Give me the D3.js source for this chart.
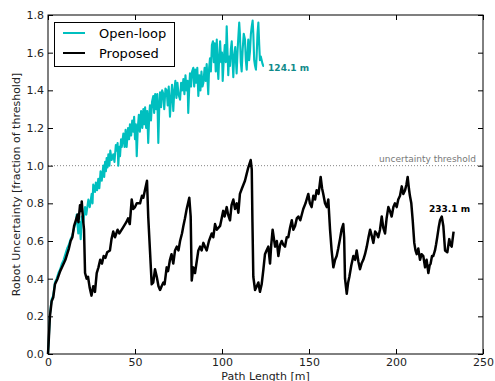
<!DOCTYPE html>
<html>
<head>
<meta charset="utf-8">
<script src="https://cdn.jsdelivr.net/npm/d3@7"></script>
<style>
body { margin: 0; background: #fff; }
text { font-family: "DejaVu Sans", sans-serif; }
</style>
</head>
<body>
<svg width="495" height="381"></svg>
<script>
// chart values: [path length m, uncertainty fraction]
var openLoop = [[0,0],[0.3,0.05],[1.1,0.21],[2.1,0.29],[3,0.31],[4,0.38],[5,0.40],[6,0.43],[7,0.45],[8,0.48],[9,0.50],[10,0.53],[11,0.56],[12,0.58],[13,0.61],[14,0.63],[15,0.67],[16,0.70],[16.5,0.74],[17.4,0.64],[18.2,0.70],[18.8,0.61],[19.4,0.73],[20.3,0.70],[21.3,0.78],[22,0.74],[23.2,0.82],[24,0.78],[25.1,0.85],[25.6,0.80],[26.0,0.90],[27,0.86],[27.5,0.91],[28.2,0.87],[28.9,0.93],[29.5,0.88],[30.2,0.97],[30.9,0.92],[31.8,1.00],[32.3,0.94],[32.8,1.02],[33.3,0.97],[33.7,1.04],[34.2,0.99],[34.7,1.06],[35.3,1.00],[35.8,1.08],[36.6,1.03],[37.5,1.06],[38.2,1.02],[39.0,1.11],[39.5,1.08],[40.0,1.12],[40.4,1.00],[41.0,1.10],[41.4,1.05],[42.0,1.14],[42.4,1.10],[43.3,1.17],[44,1.10],[44.6,1.19],[45.2,1.10],[46,1.20],[46.6,1.14],[47.1,1.22],[47.8,1.16],[48.4,1.24],[49.0,1.18],[49.5,1.26],[50.0,1.14],[50.5,1.22],[51.0,1.05],[51.6,1.20],[52.2,1.27],[52.8,1.18],[53.5,1.29],[54.2,1.20],[54.8,1.30],[55.3,1.22],[55.8,1.31],[56.4,1.20],[57.0,1.29],[57.6,1.12],[58.2,1.27],[58.6,1.32],[59.2,1.24],[59.8,1.34],[60.5,1.37],[61.0,1.28],[61.6,1.38],[62.2,1.30],[62.8,1.38],[63.4,1.12],[64.0,1.33],[64.4,1.39],[65.0,1.31],[65.6,1.40],[66.3,1.38],[66.8,1.30],[67.5,1.41],[68.2,1.40],[68.8,1.32],[69.4,1.42],[70.1,1.26],[70.7,1.36],[71.3,1.43],[72.0,1.29],[72.6,1.40],[73.2,1.45],[73.8,1.36],[74.4,1.44],[75.0,1.38],[75.9,1.35],[76.5,1.44],[77.2,1.40],[77.8,1.46],[78.4,1.38],[79.0,1.48],[79.6,1.40],[80.2,1.45],[80.6,1.28],[81.2,1.42],[81.6,1.49],[82.2,1.42],[82.8,1.50],[83.5,1.52],[84.0,1.42],[84.6,1.51],[85.2,1.44],[85.8,1.52],[86.4,1.37],[87.0,1.48],[87.6,1.40],[88.2,1.50],[88.8,1.42],[89.3,1.44],[90.0,1.52],[90.6,1.45],[91.2,1.54],[91.7,1.45],[92.1,1.38],[92.6,1.52],[93.1,1.57],[93.6,1.50],[94.2,1.64],[94.8,1.66],[95.3,1.55],[95.8,1.65],[96.4,1.50],[97.0,1.67],[97.5,1.52],[97.9,1.46],[98.4,1.58],[98.9,1.66],[99.5,1.55],[100.0,1.60],[100.4,1.45],[101.0,1.56],[101.6,1.64],[102.2,1.55],[102.7,1.74],[103.2,1.60],[103.6,1.48],[104.1,1.58],[104.6,1.53],[105.1,1.62],[105.6,1.66],[106.1,1.55],[106.5,1.47],[107.0,1.58],[107.6,1.63],[108.4,1.49],[109.0,1.62],[109.5,1.70],[109.9,1.76],[110.3,1.70],[110.8,1.55],[111.3,1.50],[111.9,1.62],[112.5,1.70],[113.2,1.67],[113.7,1.56],[114.2,1.51],[114.7,1.60],[115.1,1.67],[115.6,1.56],[116.1,1.61],[116.6,1.70],[117.1,1.74],[117.6,1.77],[118.0,1.70],[118.5,1.56],[119.0,1.53],[119.5,1.51],[119.9,1.58],[120.4,1.70],[120.9,1.76],[121.4,1.64],[121.8,1.56],[122.3,1.58],[122.8,1.56],[123.3,1.54],[123.7,1.53],[124.1,1.53]];

var proposed = [[0,0],[0.3,0.05],[1.1,0.2],[2.1,0.28],[3,0.3],[4,0.37],[5.5,0.40],[7,0.44],[8.5,0.47],[10,0.5],[11,0.53],[12,0.56],[13,0.6],[14,0.62],[15,0.68],[16,0.71],[17,0.74],[17.5,0.70],[18.4,0.79],[19,0.76],[19.4,0.81],[20,0.73],[20.7,0.66],[21.3,0.43],[22.2,0.40],[23,0.41],[24,0.35],[25,0.31],[26,0.36],[27,0.33],[28,0.43],[29,0.46],[30,0.50],[31,0.48],[32,0.52],[33,0.51],[34,0.54],[35.6,0.55],[36.5,0.61],[37.5,0.65],[38.5,0.62],[40,0.66],[41,0.64],[43,0.67],[45,0.70],[46,0.72],[47,0.69],[48.1,0.82],[49,0.77],[50,0.78],[51,0.80],[52.9,0.80],[54,0.84],[54.8,0.83],[55.7,0.87],[56.9,0.92],[57.6,0.73],[58.6,0.55],[59.6,0.37],[60.5,0.38],[61.5,0.45],[62.5,0.41],[63.5,0.36],[64.4,0.34],[65.3,0.36],[66.3,0.38],[67,0.37],[68.2,0.46],[69,0.44],[70.1,0.50],[71,0.53],[72,0.48],[73,0.55],[74,0.57],[75,0.55],[75.9,0.60],[77,0.64],[77.8,0.68],[78.7,0.72],[79.7,0.77],[81.2,0.83],[82,0.73],[82.6,0.39],[83.5,0.46],[84.5,0.43],[86.4,0.55],[87.4,0.57],[88.3,0.55],[89.3,0.59],[90.2,0.57],[91.2,0.55],[92.5,0.60],[94.1,0.64],[95,0.62],[96,0.69],[97,0.66],[98.9,0.68],[99.8,0.72],[100.7,0.76],[101.5,0.73],[102.7,0.78],[103.5,0.74],[104.6,0.71],[105.5,0.79],[106.5,0.82],[107.5,0.77],[108.5,0.80],[109.4,0.75],[110.3,0.85],[111.5,0.88],[113.2,0.92],[114,0.95],[115.1,0.99],[116.5,1.03],[117.1,0.98],[117.5,0.70],[118,0.41],[119,0.34],[120,0.36],[120.9,0.38],[121.8,0.33],[122.8,0.37],[123.8,0.45],[124.7,0.53],[125.6,0.55],[126.6,0.57],[127.6,0.48],[128.3,0.58],[129.1,0.66],[130.5,0.57],[131.5,0.60],[132.4,0.52],[133.4,0.58],[134.3,0.60],[135.2,0.58],[136.2,0.57],[137.2,0.62],[138.1,0.62],[139.1,0.67],[140.1,0.71],[141,0.66],[142,0.68],[143,0.72],[143.9,0.73],[145,0.71],[146.7,0.77],[148,0.80],[149.6,0.85],[150.5,0.80],[151.5,0.78],[152.5,0.84],[153.5,0.82],[154.4,0.87],[155.5,0.85],[156.7,0.94],[157.5,0.88],[158.2,0.85],[159.2,0.80],[160.2,0.78],[161.1,0.82],[162.1,0.66],[163,0.55],[164,0.46],[165,0.50],[165.9,0.52],[166.8,0.56],[167.8,0.61],[168.7,0.66],[169.7,0.69],[170.2,0.62],[170.7,0.40],[171.7,0.32],[172.5,0.38],[173.2,0.41],[174.3,0.47],[175.5,0.52],[176.5,0.50],[177.4,0.55],[178.4,0.49],[179.3,0.45],[180.2,0.48],[181.2,0.50],[182.2,0.53],[183.2,0.57],[184.2,0.62],[185.1,0.66],[186,0.63],[187,0.59],[188,0.65],[188.9,0.64],[189.8,0.62],[190.8,0.66],[191.8,0.73],[192.7,0.67],[193.7,0.64],[194.6,0.72],[195.6,0.78],[196.5,0.76],[197.5,0.73],[198.5,0.78],[199.4,0.80],[200.4,0.78],[201.3,0.82],[202.3,0.84],[203.3,0.89],[204.2,0.85],[205.2,0.87],[206,0.90],[206.7,0.94],[207.4,0.88],[208,0.84],[208.8,0.80],[209.6,0.71],[210.5,0.59],[211.2,0.55],[211.9,0.53],[212.8,0.56],[213.8,0.50],[214.7,0.53],[215.7,0.52],[216.7,0.46],[217.6,0.50],[218.6,0.43],[219.3,0.47],[219.9,0.48],[220.7,0.52],[221.4,0.52],[222.4,0.55],[223,0.58],[223.7,0.62],[224.5,0.67],[225.3,0.71],[226.3,0.73],[227.2,0.68],[228.2,0.55],[229.5,0.54],[230.6,0.61],[231.3,0.58],[232,0.57],[233.1,0.65]];

var seriesNames = ["Open-loop", "Proposed"];
var xTicks = [0, 50, 100, 150, 200, 250];
var yTicks = [0, 0.2, 0.4, 0.6, 0.8, 1.0, 1.2, 1.4, 1.6, 1.8];
var threshold = 1.0;
var endLabels = ["124.1 m", "233.1 m"];

var mLeft = 48, mRight = 483, mTop = 15, mBottom = 354;
var svg = d3.select("svg");

var x = d3.scaleLinear().domain([0, 250]).range([mLeft, mRight]);
var y = d3.scaleLinear().domain([0, 1.8]).range([mBottom, mTop]);

var line = d3.line().x(function(d) { return x(d[0]); }).y(function(d) { return y(d[1]); });

// threshold
svg.append("line")
  .attr("x1", x(0)).attr("x2", x(250))
  .attr("y1", y(threshold)).attr("y2", y(threshold))
  .attr("stroke", "#666").attr("stroke-width", 0.8)
  .attr("stroke-dasharray", "1,2");
svg.append("text")
  .attr("x", x(246)).attr("y", y(threshold) - 4)
  .attr("text-anchor", "end").attr("font-size", 9).attr("fill", "#777")
  .text("uncertainty threshold");

svg.append("path").datum(openLoop).attr("d", line)
  .attr("fill", "none").attr("stroke", "#00bfbf").attr("stroke-width", 2.1)
  .attr("stroke-linejoin", "round");
svg.append("path").datum(proposed).attr("d", line)
  .attr("fill", "none").attr("stroke", "#000").attr("stroke-width", 2.5)
  .attr("stroke-linejoin", "round");

svg.append("text").attr("x", x(126.5)).attr("y", y(1.505))
  .attr("font-size", 9).attr("font-weight", "bold").attr("fill", "#108a8a")
  .text(endLabels[0]);
svg.append("text").attr("x", x(219)).attr("y", y(0.755))
  .attr("font-size", 9).attr("font-weight", "bold").attr("fill", "#000")
  .text(endLabels[1]);

// axes, ticks inside like matplotlib classic
var fmtY = d3.format(".1f");
svg.append("g").attr("transform", "translate(" + mLeft + ",0)")
  .call(d3.axisLeft(y).tickValues(yTicks).tickFormat(fmtY).tickSizeInner(-5).tickSizeOuter(0).tickPadding(4));
svg.append("g").attr("transform", "translate(" + mRight + ",0)")
  .call(d3.axisRight(y).tickValues(yTicks).tickFormat("").tickSizeInner(-5).tickSizeOuter(0));
svg.append("g").attr("transform", "translate(0," + mBottom + ")")
  .call(d3.axisBottom(x).tickValues(xTicks).tickFormat(d3.format("d")).tickSizeInner(-5).tickSizeOuter(0).tickPadding(4));
svg.append("g").attr("transform", "translate(0," + mTop + ")")
  .call(d3.axisTop(x).tickValues(xTicks).tickFormat("").tickSizeInner(-5).tickSizeOuter(0));
svg.selectAll(".tick text").attr("font-size", 11).attr("fill", "#222").style("font-family", "DejaVu Sans");
svg.selectAll(".domain").remove();

svg.append("rect").attr("x", mLeft).attr("y", mTop)
  .attr("width", mRight - mLeft).attr("height", mBottom - mTop)
  .attr("fill", "none").attr("stroke", "#000").attr("stroke-width", 1);

svg.append("text").attr("x", (mLeft + mRight) / 2).attr("y", 380)
  .attr("text-anchor", "middle").attr("font-size", 11).attr("fill", "#222")
  .text("Path Length [m]");
svg.append("text")
  .attr("transform", "translate(20," + (mTop + mBottom) / 2 + ") rotate(-90)")
  .attr("text-anchor", "middle").attr("font-size", 11).attr("fill", "#222")
  .text("Robot Uncertainty [fraction of threshold]");

// legend
var lg = svg.append("g");
lg.append("rect").attr("x", 54.5).attr("y", 22.5).attr("width", 120).attr("height", 44)
  .attr("fill", "#fff").attr("stroke", "#000").attr("stroke-width", 1);
var colors = ["#00bfbf", "#000"];
seriesNames.forEach(function(name, i) {
  var ly = 33 + i * 20;
  lg.append("line").attr("x1", 63).attr("x2", 85).attr("y1", ly).attr("y2", ly)
    .attr("stroke", colors[i]).attr("stroke-width", 2);
  lg.append("text").attr("x", 99).attr("y", ly + 5).attr("font-size", 13).attr("fill", "#000")
    .text(name);
});
</script>
</body>
</html>
